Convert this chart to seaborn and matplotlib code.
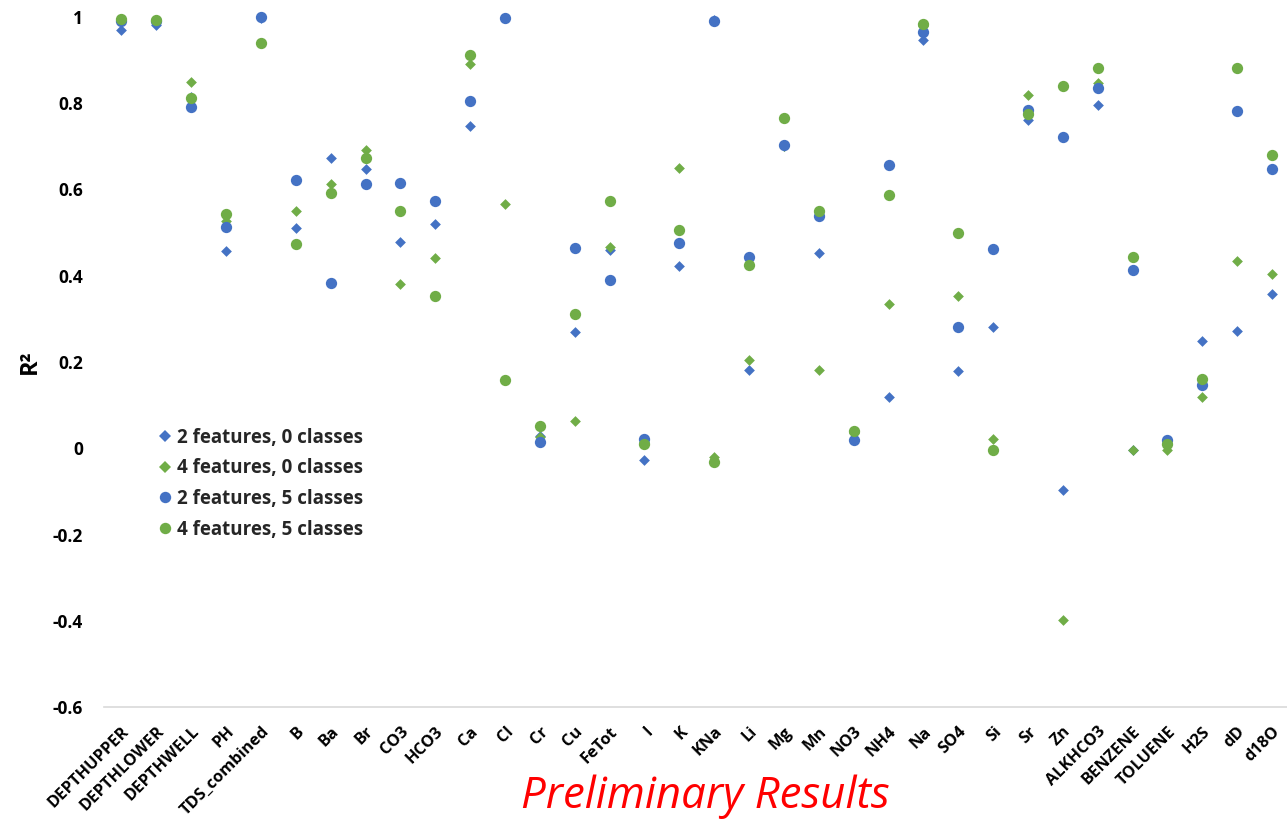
import matplotlib
matplotlib.use("Agg")
import matplotlib.pyplot as plt
import seaborn as sns
import pandas as pd
import numpy as np

categories = ["DEPTHUPPER", "DEPTHLOWER", "DEPTHWELL", "PH", "TDS_combined", "B", "Ba", "Br",
              "CO3", "HCO3", "Ca", "Cl", "Cr", "Cu", "FeTot", "I", "K", "KNa", "Li", "Mg", "Mn",
              "NO3", "NH4", "Na", "SO4", "Si", "Sr", "Zn", "ALKHCO3", "BENZENE", "TOLUENE",
              "H2S", "dD", "d18O"]

f2_c0 = [0.971, 0.981, 0.815, 0.458, 0.998, 0.511, 0.674, 0.647, 0.479, 0.520, 0.747, 0.997,
         0.028, 0.270, 0.460, -0.028, 0.423, 0.992, 0.181, 0.700, 0.453, 0.020, 0.119, 0.947,
         0.178, 0.282, 0.762, -0.096, 0.797, -0.004, 0.010, 0.249, 0.272, 0.358]
f4_c0 = [0.990, 0.990, 0.850, 0.526, 0.940, 0.550, 0.612, 0.692, 0.381, 0.441, 0.891, 0.567,
         0.025, 0.064, 0.467, 0.015, 0.650, -0.020, 0.205, 0.700, 0.181, 0.035, 0.335, 0.980,
         0.353, 0.022, 0.818, -0.399, 0.846, -0.005, -0.005, 0.119, 0.435, 0.405]
f2_c5 = [0.990, 0.990, 0.791, 0.512, 1.000, 0.623, 0.384, 0.612, 0.615, 0.574, 0.806, 0.997,
         0.014, 0.464, 0.391, 0.021, 0.476, 0.991, 0.444, 0.703, 0.538, 0.019, 0.656, 0.965,
         0.282, 0.462, 0.784, 0.721, 0.836, 0.414, 0.018, 0.146, 0.782, 0.647]
f4_c5 = [0.995, 0.992, 0.812, 0.543, 0.940, 0.473, 0.592, 0.674, 0.550, 0.353, 0.912, 0.158,
         0.052, 0.312, 0.574, 0.010, 0.505, -0.032, 0.426, 0.765, 0.550, 0.040, 0.588, 0.983,
         0.499, -0.005, 0.774, 0.841, 0.882, 0.443, 0.009, 0.161, 0.882, 0.680]

series_names = ["2 features, 0 classes", "4 features, 0 classes",
                "2 features, 5 classes", "4 features, 5 classes"]
yticks = [-0.6, -0.4, -0.2, 0, 0.2, 0.4, 0.6, 0.8, 1]
ytick_labels = ["-0.6", "-0.4", "-0.2", "0", "0.2", "0.4", "0.6", "0.8", "1"]

BLUE = "#4472C4"
GREEN = "#70AD47"

sns.set_theme(style="white")
FONT = ["Open Sans", "DejaVu Sans"]
plt.rcParams["font.family"] = FONT
plt.rcParams["axes.unicode_minus"] = False

W, H = 1287, 819
fig = plt.figure(figsize=(W / 100, H / 100), dpi=100)
left, right, top, bottom = 104, 1289.5, 17, 707
ax = fig.add_axes([left / W, 1 - bottom / H, (right - left) / W, (bottom - top) / H])

styles = [
    (f2_c0, BLUE, "D", 30),
    (f4_c0, GREEN, "D", 30),
    (f2_c5, BLUE, "o", 66),
    (f4_c5, GREEN, "o", 66),
]
for name, (vals, col, mk, sz) in zip(series_names, styles):
    df = pd.DataFrame({"cat": categories, "val": vals})
    sns.scatterplot(data=df, x="cat", y="val", color=col, marker=mk, s=sz,
                    linewidth=0, label=name, ax=ax, legend=False, clip_on=False, zorder=3)

ax.set_xlim(-0.5, len(categories) - 0.5)
ax.set_ylim(-0.6, 1.0)
ax.set_yticks(yticks)
ax.set_yticklabels(ytick_labels, fontsize=12.5, fontweight="bold", color="black")
ax.set_xticks(range(len(categories)))
ax.set_xticklabels(categories, rotation=45, ha="right", rotation_mode="anchor",
                   fontsize=11.8, fontweight="bold", color="black")
ax.tick_params(axis="both", length=0)
ax.tick_params(axis="y", pad=15)
ax.tick_params(axis="x", pad=12)
for s in ["top", "right", "left"]:
    ax.spines[s].set_visible(False)
ax.spines["bottom"].set_color("#d9d9d9")
ax.spines["bottom"].set_linewidth(1.2)
ax.grid(False)
ax.set_xlabel("")
ax.set_ylabel("R²", fontsize=17, fontweight="bold", color="black", labelpad=8)

handles = [
    plt.Line2D([], [], linestyle="none", marker="D", color=BLUE, markersize=6, markeredgewidth=0),
    plt.Line2D([], [], linestyle="none", marker="D", color=GREEN, markersize=6, markeredgewidth=0),
    plt.Line2D([], [], linestyle="none", marker="o", color=BLUE, markersize=8.2, markeredgewidth=0),
    plt.Line2D([], [], linestyle="none", marker="o", color=GREEN, markersize=8.2, markeredgewidth=0),
]
leg = fig.legend(handles, series_names, loc="upper left",
                 bbox_to_anchor=(159 / W, 1 - 428 / H), frameon=False,
                 prop={"family": FONT, "weight": "bold", "size": 13.5},
                 handlelength=0.6, handletextpad=0.35, labelspacing=0.56, borderpad=0,
                 borderaxespad=0)

fig.text(705 / W, 1 - 797 / H, "Preliminary Results", color="red", fontsize=31.5,
         style="italic", ha="center", va="center", family=["Open Sans", "DejaVu Sans"])

fig.savefig("out.png", dpi=100, facecolor="white")
